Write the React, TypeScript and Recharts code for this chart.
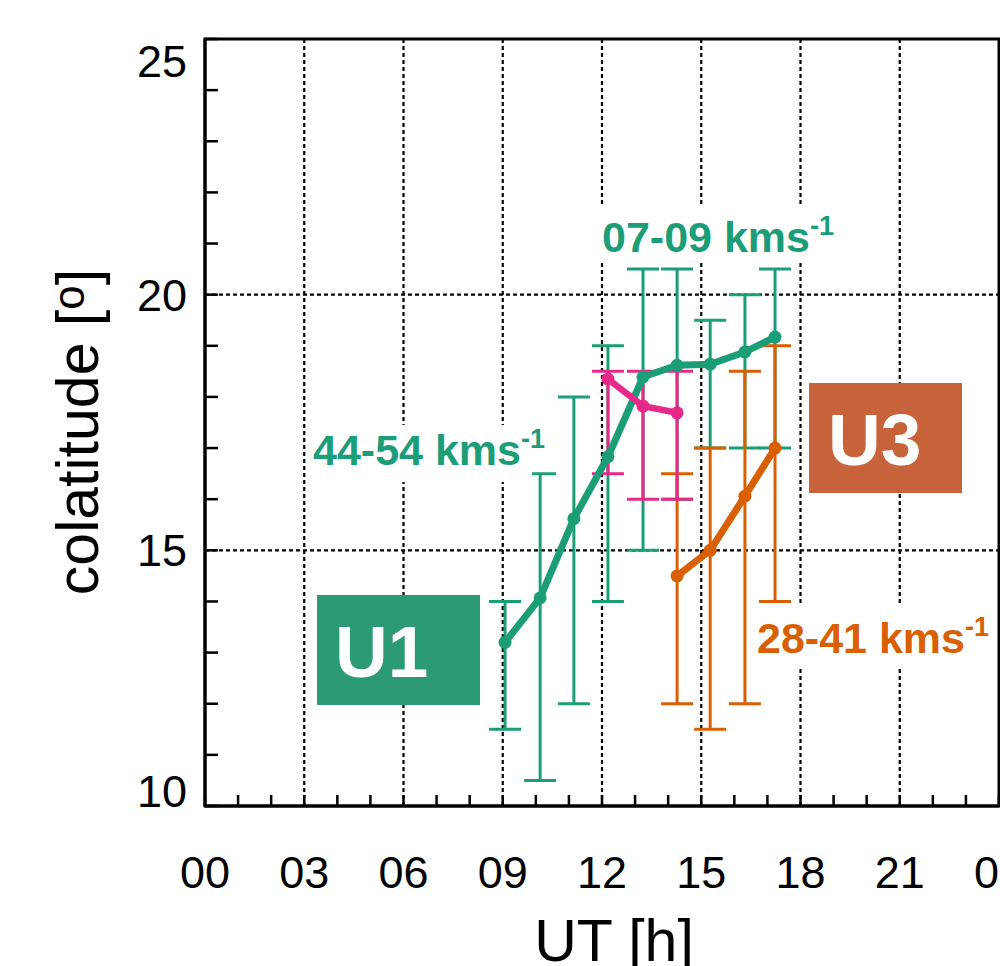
import React from "react";
import {CartesianGrid, ErrorBar, Line, LineChart, ReferenceArea, XAxis, YAxis} from "recharts";

// U1 (green), 07-09 km/s branch is the same series in the plot
const u1Hours = [9.07, 10.13, 11.15, 12.18, 13.24, 14.27, 15.27, 16.32, 17.23];
const u1Colat = [13.2, 14.07, 15.62, 16.83, 18.39, 18.62, 18.64, 18.88, 19.17];
const u1Low = [11.5, 10.5, 12.0, 14.0, 15.0, 16.0, 17.0, 17.0, 17.0];
const u1High = [14.0, 16.5, 18.0, 19.0, 20.5, 20.5, 19.5, 20.0, 20.5];

// magenta
const pkHours = [12.18, 13.24, 14.27];
const pkColat = [18.35, 17.82, 17.69];
const pkLow = [16.5, 16.0, 16.0];
const pkHigh = [18.5, 18.5, 18.5];

// U3 (orange)
const u3Hours = [14.27, 15.27, 16.32, 17.23];
const u3Colat = [14.5, 15.0, 16.06, 17.0];
const u3Low = [12.0, 11.5, 12.0, 14.0];
const u3High = [16.5, 17.0, 18.5, 19.0];

const xTicks = [0, 1, 2, 3, 4, 5, 6, 7, 8, 9, 10, 11, 12, 13, 14, 15, 16, 17, 18, 19, 20, 21, 22, 23, 24];
const xMajor = [0, 3, 6, 9, 12, 15, 18, 21, 24];
const xLabels = ["00", "03", "06", "09", "12", "15", "18", "21", "00"];
const yTicks = [10, 11, 12, 13, 14, 15, 16, 17, 18, 19, 20, 21, 22, 23, 24, 25];
const yMajor = [10, 15, 20, 25];
const yLabels = ["10", "15", "20", "25"];
const xGrid = [3, 6, 9, 12, 15, 18, 21];
const yGrid = [15, 20];

const GREEN = "#1b9e77";
const PINK = "#e7298a";
const ORANGE = "#d95f02";
const FONT = '"Liberation Sans", Arial, Helvetica, sans-serif';

const rows = (h: number[], c: number[], lo: number[], hi: number[]) =>
    h.map((x, i) => ({x, y: c[i], err: [c[i] - lo[i], hi[i] - c[i]]}));

const u1Rows = rows(u1Hours, u1Colat, u1Low, u1High);
const pkRows = rows(pkHours, pkColat, pkLow, pkHigh);
const u3Rows = rows(u3Hours, u3Colat, u3Low, u3High);

const BottomTick = (p: any) => {
    const i = xMajor.indexOf(p.payload.value);
    return <g>
        <line x1={p.x} y1={p.y} x2={p.x} y2={p.y - 11} stroke="#000" strokeWidth={2.5}/>
        {i >= 0 && <text x={p.x} y={p.y + 82} textAnchor="middle" fontSize={45} fontFamily={FONT} fill="#000">{xLabels[i]}</text>}
    </g>;
};

const TopTick = (p: any) =>
    <line x1={p.x} y1={p.y} x2={p.x} y2={p.y + 11} stroke="#000" strokeWidth={2.5}/>;

const LeftTick = (p: any) => {
    const v = p.payload.value;
    const i = yMajor.indexOf(v);
    const dy = v === 25 ? 38 : v === 10 ? 1 : 16;
    return <g>
        <line x1={p.x} y1={p.y} x2={p.x + 13} y2={p.y} stroke="#000" strokeWidth={2.5}/>
        {i >= 0 && <text x={p.x - 18} y={p.y + dy} textAnchor="end" fontSize={45} fontFamily={FONT} fill="#000">{yLabels[i]}</text>}
    </g>;
};

const RightTick = (p: any) =>
    <line x1={p.x} y1={p.y} x2={p.x - 13} y2={p.y} stroke="#000" strokeWidth={2.5}/>;

const Speed = (props: { x: number; y: number; color: string; text: string }) =>
    <text x={props.x} y={props.y} fontSize={43} fontWeight="bold" fontFamily={FONT} fill={props.color}>
        {props.text}
        <tspan fontSize={27} dy={-17}>-1</tspan>
    </text>;

export default function App() {
    const axisLine = {stroke: "#000", strokeWidth: 3};
    return <div style={{position: "absolute", left: 0, top: 0, width: 1000, height: 966, overflow: "hidden", background: "#fff"}}>
        <LineChart width={1000} height={966} margin={{top: 39, right: 1, left: 0, bottom: 0}}>
            <CartesianGrid stroke="#000" strokeWidth={2.2} strokeDasharray="4 3"
                           horizontalValues={yGrid} verticalValues={xGrid}/>
            <XAxis dataKey="x" type="number" domain={[0, 24]} ticks={xTicks} interval={0}
                   height={160} tickSize={0} tickMargin={0} tickLine={false} axisLine={axisLine} tick={<BottomTick/>}/>
            <XAxis xAxisId="top" orientation="top" dataKey="x" type="number" domain={[0, 24]} ticks={xTicks} interval={0}
                   height={0} tickSize={0} tickMargin={0} tickLine={false} axisLine={axisLine} tick={<TopTick/>}/>
            <YAxis type="number" domain={[10, 25]} ticks={yTicks} interval={0}
                   width={205} tickSize={0} tickMargin={0} tickLine={false} axisLine={axisLine} tick={<LeftTick/>}/>
            <YAxis yAxisId="right" orientation="right" type="number" domain={[10, 25]} ticks={yTicks} interval={0}
                   width={0} tickSize={0} tickMargin={0} tickLine={false} axisLine={axisLine} tick={<RightTick/>}/>

            <Line data={u1Rows} dataKey="y" stroke="none" dot={false} activeDot={false} isAnimationActive={false}>
                <ErrorBar dataKey="err" direction="y" width={16} strokeWidth={3} stroke={GREEN} zIndex={300}/>
            </Line>
            <Line data={u3Rows} dataKey="y" stroke="none" dot={false} activeDot={false} isAnimationActive={false}>
                <ErrorBar dataKey="err" direction="y" width={16} strokeWidth={3} stroke={ORANGE} zIndex={301}/>
            </Line>
            <Line data={pkRows} dataKey="y" stroke="none" dot={false} activeDot={false} isAnimationActive={false}>
                <ErrorBar dataKey="err" direction="y" width={16} strokeWidth={3} stroke={PINK} zIndex={302}/>
            </Line>

            <Line data={u1Rows} dataKey="y" type="linear" stroke={GREEN} strokeWidth={7} strokeLinejoin="round"
                  dot={{r: 6.5, fill: GREEN, stroke: "none"}} activeDot={false} isAnimationActive={false} zIndex={600}/>
            <Line data={pkRows} dataKey="y" type="linear" stroke={PINK} strokeWidth={6.5} strokeLinejoin="round"
                  dot={{r: 6.5, fill: PINK, stroke: "none"}} activeDot={false} isAnimationActive={false} zIndex={601}/>
            <Line data={u3Rows} dataKey="y" type="linear" stroke={ORANGE} strokeWidth={7} strokeLinejoin="round"
                  dot={{r: 6.5, fill: ORANGE, stroke: "none"}} activeDot={false} isAnimationActive={false} zIndex={602}/>

            <ReferenceArea x1={0} x2={24} y1={10} y2={25} fill="none" fillOpacity={0} stroke="#000" strokeWidth={3}
                           ifOverflow="visible"/>
        </LineChart>

        <svg width={1000} height={966} style={{position: "absolute", left: 0, top: 0, pointerEvents: "none"}}>
            <rect x={595} y={205} width={245} height={57} fill="#fff"/>
            <rect x={308} y={425} width={224} height={57} fill="#fff"/>
            <rect x={752} y={605} width={245} height={62} fill="#fff"/>
            <Speed x={602} y={252} color={GREEN} text="07-09 kms"/>
            <Speed x={313} y={465} color={GREEN} text="44-54 kms"/>
            <Speed x={757} y={653} color={ORANGE} text="28-41 kms"/>

            <rect x={317} y={595} width={163} height={110} fill="#2b9a75"/>
            <text x={335} y={677} fontSize={73} fontWeight="bold" fontFamily={FONT} fill="#fff">U1</text>
            <rect x={809} y={383} width={153} height={110} fill="#c8623a"/>
            <text x={828} y={465} fontSize={73} fontWeight="bold" fontFamily={FONT} fill="#fff">U3</text>

            <text x={98} y={432} transform="rotate(-90 98 432)" textAnchor="middle" fontSize={59} fontFamily={FONT} fill="#000">
                colatitude [<tspan fontSize={44} dy={-14}>o</tspan><tspan dy={14}>]</tspan>
            </text>
            <text x={614} y={961} textAnchor="middle" fontSize={59} fontFamily={FONT} fill="#000">UT [h]</text>
        </svg>
    </div>;
}
